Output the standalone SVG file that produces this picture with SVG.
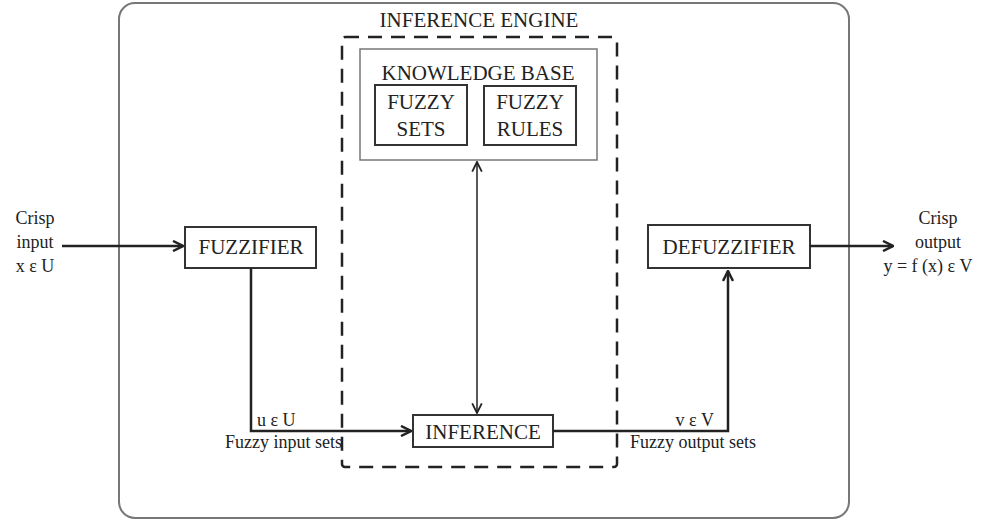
<svg xmlns="http://www.w3.org/2000/svg" width="985" height="520" viewBox="0 0 985 520">
<style>
text{font-family:"Liberation Serif","Times New Roman",serif;fill:#222;}
.cap{font-size:21px;text-anchor:middle;}
.sm{font-size:18px;}
.box{fill:#fff;stroke:#333;stroke-width:2;}
.line{fill:none;stroke:#222;stroke-width:2.5;}
</style>
<defs>
<marker id="ah" viewBox="0 0 10 10" refX="9" refY="5" markerWidth="5" markerHeight="5" orient="auto" markerUnits="strokeWidth">
<path d="M1,1 L9,5 L1,9" fill="none" stroke="#222" stroke-width="2"/>
</marker>
<marker id="ah2" viewBox="0 0 10 10" refX="9" refY="5" markerWidth="8" markerHeight="8" orient="auto-start-reverse" markerUnits="strokeWidth">
<path d="M1,1 L9,5 L1,9" fill="none" stroke="#222" stroke-width="1.5"/>
</marker>
</defs>
<rect id="system" x="119" y="3" width="730" height="515" rx="16" fill="none" stroke="#777" stroke-width="2"/>
<g id="inference-engine">
<rect x="342" y="37" width="275" height="430" rx="3" fill="none" stroke="#222" stroke-width="2.5" stroke-dasharray="14,9"/>
<text class="cap" x="479" y="27">INFERENCE ENGINE</text>
</g>
<g id="knowledge-base">
<rect x="360" y="49" width="237" height="111" fill="#fff" stroke="#777" stroke-width="1.5"/>
<text class="cap" x="478" y="80">KNOWLEDGE BASE</text>
</g>
<g id="fuzzy-sets">
<rect class="box" x="375" y="85" width="92" height="60"/>
<text class="cap" x="421" y="109">FUZZY</text>
<text class="cap" x="421" y="136">SETS</text>
</g>
<g id="fuzzy-rules">
<rect class="box" x="484" y="86" width="92" height="59"/>
<text class="cap" x="530" y="109">FUZZY</text>
<text class="cap" x="530" y="136">RULES</text>
</g>
<g id="fuzzifier">
<rect class="box" x="185" y="227" width="131" height="41"/>
<text class="cap" x="251" y="254">FUZZIFIER</text>
</g>
<g id="inference">
<rect class="box" x="413" y="415" width="140" height="32"/>
<text class="cap" x="483" y="439">INFERENCE</text>
</g>
<g id="defuzzifier">
<rect class="box" x="648" y="225" width="162" height="43"/>
<text class="cap" x="729" y="254">DEFUZZIFIER</text>
</g>
<g id="connectors">
<line class="line" x1="62" y1="246" x2="183" y2="246" marker-end="url(#ah)"/>
<polyline class="line" points="251,268 251,431 411,431" marker-end="url(#ah)"/>
<polyline class="line" points="553,431 728,431 728,271" marker-end="url(#ah)"/>
<line class="line" x1="810" y1="246" x2="893" y2="246" marker-end="url(#ah)"/>
<line x1="477" y1="162" x2="477" y2="413" stroke="#222" stroke-width="1.5" marker-start="url(#ah2)" marker-end="url(#ah2)"/>
</g>
<g id="labels">
<text class="sm" x="35" y="224" text-anchor="middle">Crisp</text>
<text class="sm" x="35" y="248" text-anchor="middle">input</text>
<text class="sm" x="35" y="272" text-anchor="middle">x ε U</text>
<text class="sm" x="938" y="224" text-anchor="middle">Crisp</text>
<text class="sm" x="938" y="248" text-anchor="middle">output</text>
<text class="sm" x="928" y="272" text-anchor="middle">y = f (x) ε V</text>
<text class="sm" x="257" y="426">u ε U</text>
<text class="sm" x="342" y="448" text-anchor="end">Fuzzy input sets</text>
<text class="sm" x="714" y="426" text-anchor="end">v ε V</text>
<text class="sm" x="630" y="448">Fuzzy output sets</text>
</g>
</svg>
